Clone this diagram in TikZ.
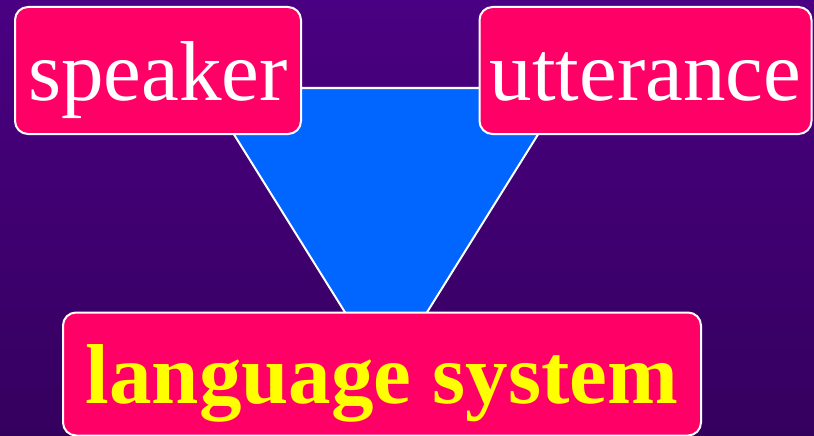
\documentclass[tikz,border=0pt]{standalone}
\usepackage{fontspec}
\setmainfont{Liberation Serif}
\definecolor{bgtop}{RGB}{74,0,130}
\definecolor{bgbot}{RGB}{52,0,94}
\definecolor{boxpink}{RGB}{255,0,102}
\definecolor{triblue}{RGB}{0,102,255}
\definecolor{txtyellow}{RGB}{255,255,0}
\tikzset{
  labelbox/.style={draw=white, line width=2pt, fill=boxpink, rounded corners=13pt,
    inner sep=0pt, text height=64pt, text depth=5pt,
    font=\fontsize{85}{90}\selectfont},
  trishape/.style={draw=white, line width=2pt, fill=triblue, line join=miter}
}
\begin{document}
\begin{tikzpicture}[x=1pt,y=-1pt]
  \useasboundingbox (0,0) rectangle (814,436);
  \shade[top color=bgtop, bottom color=bgbot] (0,0) rectangle (814,436);
  % inverted triangle
  \coordinate (tl) at (205,88);
  \coordinate (tr) at (567,88);
  \coordinate (ap) at (386,378);
  \draw[trishape] (tl) -- (tr) -- (ap) -- cycle;
  % boxes
  \node[labelbox, text=white, minimum width=286pt, minimum height=127pt] (speaker) at (158,70.5) {speaker};
  \node[labelbox, text=white, minimum width=332pt, minimum height=127pt] (utterance) at (645.5,70.5) {utterance};
  \node[labelbox, text=txtyellow, font=\fontsize{85}{90}\selectfont\bfseries, minimum width=638pt, minimum height=123pt] (langsys) at (382,374) {language system};
\end{tikzpicture}
\end{document}
